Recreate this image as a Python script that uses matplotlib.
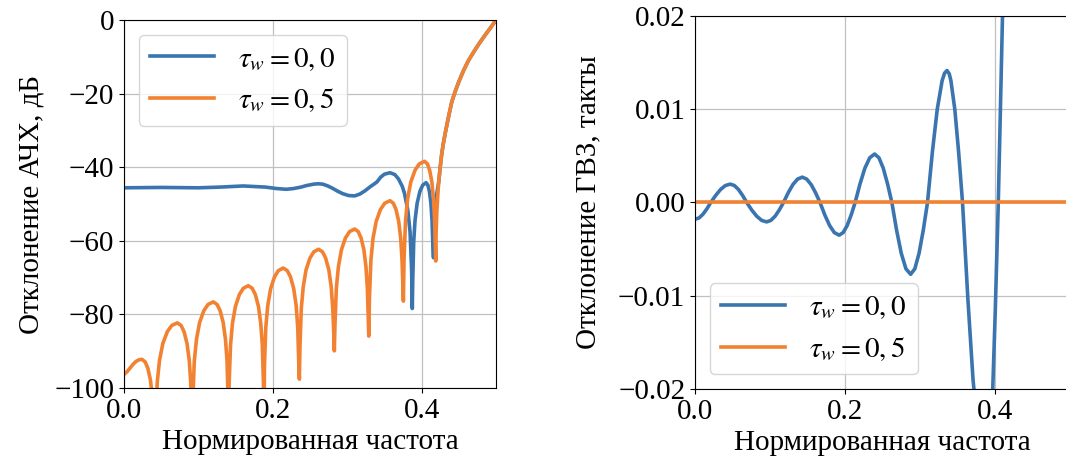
import matplotlib
matplotlib.use('Agg')
import matplotlib.pyplot as plt

plt.rcParams['font.family'] = ['Liberation Serif', 'DejaVu Serif']
plt.rcParams['mathtext.fontset'] = 'stix'
plt.rcParams['axes.unicode_minus'] = True

BLUE = '#3a75b0'
ORANGE = '#f28231'

# --- левый график: отклонение АЧХ, дБ ---
# tau_w = 0,5 (лепестки)
freq_a05 = [
    0.000, 0.004, 0.008, 0.012, 0.016, 0.020, 0.024, 0.0284, 0.0320, 0.0355, 0.0382, 0.0417,
    0.0426, 0.0447, 0.0477, 0.0522, 0.0582, 0.0642, 0.0717, 0.0767, 0.0807, 0.0847, 0.0877, 0.0897, 0.0911, 0.0917,
    0.0925, 0.0945, 0.0974, 0.1016, 0.1073, 0.1129, 0.1200, 0.1251, 0.1292, 0.1333, 0.1364, 0.1385, 0.1399, 0.1405,
    0.1413, 0.1432, 0.1458, 0.1498, 0.1551, 0.1604, 0.1670, 0.1723, 0.1765, 0.1807, 0.1838, 0.1859, 0.1874, 0.1880,
    0.1888, 0.1906, 0.1932, 0.1971, 0.2023, 0.2075, 0.2140, 0.2194, 0.2238, 0.2281, 0.2314, 0.2335, 0.2350, 0.2357,
    0.2365, 0.2383, 0.2409, 0.2447, 0.2499, 0.2551, 0.2615, 0.2668, 0.2710, 0.2753, 0.2785, 0.2806, 0.2821, 0.2827,
    0.2835, 0.2854, 0.2882, 0.2923, 0.2977, 0.3032, 0.3100, 0.3148, 0.3186, 0.3224, 0.3252, 0.3271, 0.3284, 0.3290,
    0.3299, 0.3319, 0.3347, 0.3390, 0.3447, 0.3504, 0.3575, 0.3620, 0.3656, 0.3692, 0.3719, 0.3737, 0.3750, 0.3755,
    0.3764, 0.3784, 0.3812, 0.3855, 0.3912, 0.3969, 0.4040, 0.4078, 0.4108, 0.4138, 0.4160, 0.4175, 0.4186, 0.4190,
    0.4195, 0.4205, 0.4215, 0.4230]
adb_a05 = [
    -96.3, -95.6, -94.6, -93.6, -92.8, -92.35, -92.2, -92.9, -94.6, -97.8, -102.4, -112,
    -108.8, -98.4, -92.5, -87.9, -84.7, -83.0, -82.3, -83.0, -84.7, -87.9, -92.5, -98.4, -108.8, -112,
    -103.1, -92.7, -86.8, -82.2, -79.0, -77.3, -76.6, -77.3, -79.0, -82.2, -86.8, -92.7, -103.1, -112,
    -98.7, -88.3, -82.4, -77.8, -74.6, -72.9, -72.2, -72.9, -74.6, -77.8, -82.4, -88.3, -98.7, -112,
    -93.9, -83.5, -77.6, -73.0, -69.8, -68.1, -67.4, -68.1, -69.8, -73.0, -77.6, -83.5, -93.9, -97.6,
    -88.8, -78.4, -72.5, -67.9, -64.7, -63.0, -62.3, -63.0, -64.7, -67.9, -72.5, -78.4, -86.0, -89.9,
    -83.3, -72.9, -67.0, -62.4, -59.2, -57.5, -56.8, -57.5, -59.2, -62.4, -67.0, -72.9, -82.0, -85.9,
    -75.6, -65.2, -59.3, -54.7, -51.5, -49.8, -49.1, -49.8, -51.5, -54.7, -59.3, -65.2, -73.0, -76.4,
    -64.9, -54.5, -48.6, -44.0, -40.8, -39.1, -38.4, -39.1, -40.8, -44.0, -48.6, -54.5, -62.0, -65.5,
    -58.0, -52.0, -48.5, -44.0]

# tau_w = 0,0
freq_a00 = [
    0.000, 0.050, 0.100, 0.130, 0.160, 0.190, 0.205, 0.218, 0.228, 0.238, 0.245,
    0.250, 0.255, 0.261, 0.267, 0.274, 0.280, 0.287, 0.294, 0.302, 0.310, 0.317, 0.324, 0.331, 0.336,
    0.340, 0.345, 0.350, 0.3575, 0.364, 0.369, 0.3740, 0.3770, 0.3815, 0.3845, 0.3866, 0.3875,
    0.3881, 0.3894, 0.3912, 0.3940, 0.3977, 0.4014, 0.4060, 0.4085, 0.4105, 0.4125, 0.4140, 0.4150, 0.4157, 0.4160,
    0.4165, 0.4175, 0.4190, 0.4210, 0.4230]
adb_a00 = [
    -45.6, -45.5, -45.6, -45.4, -45.1, -45.4, -45.8, -46.0, -45.8, -45.4, -45.0,
    -44.8, -44.6, -44.5, -44.6, -45.1, -45.7, -46.5, -47.2, -47.7, -47.8, -47.3, -46.4, -45.3, -44.6,
    -44.0, -42.7, -41.9, -41.5, -42.0, -43.2, -45.2, -47.1, -51.7, -57.6, -68.0, -78.4,
    -70.7, -60.3, -54.4, -49.8, -46.6, -44.9, -44.2, -44.9, -46.6, -49.8, -54.4, -60.3, -63.5, -64.6,
    -59.0, -53.0, -49.0, -46.5, -44.0]

# общий участок у края полосы
freq_tail = [0.425, 0.427, 0.429, 0.432, 0.436, 0.4405, 0.445, 0.450, 0.456, 0.463,
             0.470, 0.477, 0.485, 0.492, 0.500]
adb_tail = [-40.0, -36.5, -33.8, -30.5, -26.5, -22.3, -19.5, -16.8, -13.9, -11.0,
            -8.7, -6.5, -4.2, -2.3, 0.0]

# --- правый график: отклонение ГВЗ, такты ---
freq_g00 = [
    0.000, 0.00525, 0.0105, 0.01575, 0.021, 0.0275, 0.034, 0.0405, 0.047,
    0.0525, 0.058, 0.0635, 0.069, 0.0756, 0.0823, 0.0889, 0.0955,
    0.1011, 0.1068, 0.1124, 0.118, 0.12425, 0.1305, 0.13675, 0.143,
    0.1489, 0.1549, 0.1608, 0.1667, 0.1731, 0.1795, 0.1858, 0.1922,
    0.1975, 0.2029, 0.2082, 0.2135, 0.2200, 0.2265, 0.2330, 0.2395,
    0.24525, 0.2510, 0.25675, 0.2625, 0.26875, 0.2750, 0.28125, 0.2875,
    0.2931, 0.29875, 0.3044, 0.310, 0.3165, 0.323, 0.3295, 0.3328, 0.336,
    0.3390, 0.3412, 0.3464, 0.3515, 0.3567, 0.3638, 0.3708, 0.3779, 0.385,
    0.3899, 0.3947, 0.397, 0.4004, 0.4044, 0.4075, 0.410, 0.414]
gd_g00 = [
    -0.00180, -0.00166, -0.00127, -0.00069, 0.0, 0.00075, 0.00139, 0.00182, 0.00197,
    0.00182, 0.00139, 0.00075, 0.0, -0.00080, -0.00147, -0.00192, -0.00208,
    -0.00192, -0.00147, -0.00080, 0.0, 0.00104, 0.00192, 0.00251, 0.00272,
    0.00251, 0.00192, 0.00104, 0.0, -0.00134, -0.00247, -0.00323, -0.00350,
    -0.00323, -0.00247, -0.00134, 0.0, 0.00199, 0.00368, 0.00480, 0.00520,
    0.00480, 0.00368, 0.00199, 0.0, -0.00295, -0.00544, -0.00711, -0.00770,
    -0.00711, -0.00544, -0.00295, 0.0, 0.00542, 0.01000, 0.01307, 0.01388, 0.01415,
    0.01380, 0.01307, 0.01000, 0.00542, 0.0, -0.0103, -0.0191, -0.0249, -0.0270,
    -0.0255, -0.0225, -0.0200, -0.0115, 0.0, 0.0110, 0.0200, 0.0320]
freq_g05 = [0.0, 0.5]
gd_g05 = [0.0, 0.0]

labels = [r'$\tau_w = 0,0$', r'$\tau_w = 0,5$']

fig = plt.figure(figsize=(10.66, 4.73), dpi=100)
ax1 = fig.add_axes([124 / 1066, 1 - 388 / 473, 372 / 1066, 368 / 473])
ax2 = fig.add_axes([695 / 1066, 1 - 389 / 473, 375 / 1066, 373 / 473])

ax1.plot(freq_a00 + freq_tail, adb_a00 + adb_tail, color=BLUE, lw=2.6, label=labels[0])
ax1.plot(freq_a05 + freq_tail, adb_a05 + adb_tail, color=ORANGE, lw=2.6, label=labels[1])
ax1.set_xlim(0, 0.5)
ax1.set_ylim(-100, 0)
ax1.set_yticks([0, -20, -40, -60, -80, -100])
ax1.set_xlabel('Нормированная частота', fontsize=21)
ax1.set_ylabel('Отклонение АЧХ, дБ', fontsize=21, labelpad=7)
ax1.legend(loc='upper left', fontsize=21, handlelength=2.2, edgecolor='#cccccc')

ax2.plot(freq_g00, gd_g00, color=BLUE, lw=2.6, label=labels[0])
ax2.plot(freq_g05, gd_g05, color=ORANGE, lw=2.6, label=labels[1])
ax2.set_xlim(0, 0.5)
ax2.set_ylim(-0.02, 0.02)
ax2.set_yticks([0.02, 0.01, 0.0, -0.01, -0.02])
ax2.set_yticklabels(['0.02', '0.01', '0.00', '\u22120.01', '\u22120.02'])
ax2.set_xlabel('Нормированная частота', fontsize=21)
ax2.set_ylabel('Отклонение ГВЗ, такты', fontsize=21, labelpad=12)
ax2.legend(loc='lower left', fontsize=21, handlelength=2.2, edgecolor='#cccccc')

for ax in (ax1, ax2):
    ax.set_xticks([0.0, 0.2, 0.4])
    ax.set_xticklabels(['0.0', '0.2', '0.4'])
    ax.grid(True, color='#c0c0c0', lw=0.9)
    ax.tick_params(labelsize=21)

fig.savefig('out.png', dpi=100)
